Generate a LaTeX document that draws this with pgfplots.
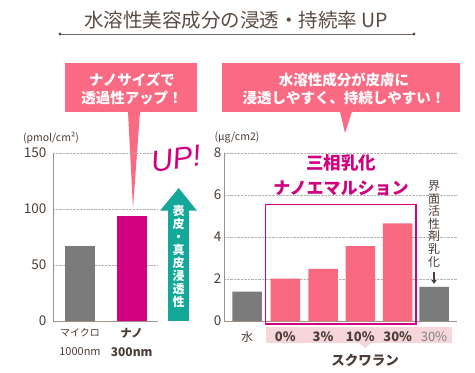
\documentclass[border=0pt]{standalone}
\usepackage{pgfplots}
\pgfplotsset{compat=1.18}
\usetikzlibrary{arrows.meta}
\usepackage{fontspec}
\setmainfont{Noto Sans CJK JP}
\newfontfamily\upfont{Liberation Sans}
\definecolor{titlebrown}{HTML}{5A4A42}
\definecolor{pinkbox}{HTML}{FA6A82}
\definecolor{barpink}{HTML}{F8687F}
\definecolor{mag}{HTML}{D0007F}
\definecolor{tealc}{HTML}{14A898}
\definecolor{bargray}{HTML}{7B7B7B}
\definecolor{band}{HTML}{F6D6DA}
\definecolor{axisc}{HTML}{A29286}
\definecolor{tickc}{HTML}{4B3D35}
\newcommand{\fs}[1]{\fontsize{#1}{#1}\selectfont}
\pgfplotsset{
  myaxis/.style={
    scale only axis, anchor=south west,
    axis x line*=bottom, axis y line*=left,
    axis line style={axisc, line width=0.8pt, -},
    major tick length=0pt,
    ymajorgrids, grid style={densely dotted, gray!60, line width=0.6pt},
    xtick=\empty,
    /pgf/number format/assume math mode=true,
    yticklabel style={font=\fs{13.5}, text=tickc},
    ybar, clip=false,
  }
}
\begin{document}
\begin{tikzpicture}[x=1pt,y=1pt]
\useasboundingbox (0,0) rectangle (475,373);
% title
\node[text=titlebrown, font=\fs{19.5}, inner sep=0] at (236,353) {水溶性美容成分の浸透・持続率 UP};
\draw[titlebrown!85, line width=0.8pt] (60,339) -- (414,339);
\fill[titlebrown] (60,339) circle (1.7) (414,339) circle (1.7);
% callouts
\fill[pinkbox] (65,310) rectangle (197,261);
\fill[pinkbox] (128,261.5) -- (140,261.5) -- (133,165) -- cycle;
\node[text=white, font=\bfseries\fs{14.5}, inner sep=0] at (132,293) {ナノサイズで};
\node[text=white, font=\bfseries\fs{14.5}, inner sep=0] at (132,275) {透過性アップ！};
\fill[pinkbox] (222,310) rectangle (460,261);
\fill[pinkbox] (340,261.5) -- (352,261.5) -- (345,240) -- cycle;
\node[text=white, font=\bfseries\fs{14.5}, inner sep=0] at (344,293) {水溶性成分が皮膚に};
\node[text=white, font=\bfseries\fs{14.5}, inner sep=0] at (344,275) {浸透しやすく、持続しやすい！};
% band behind right tick labels
\fill[band] (265.7,46) rectangle (452,30);
\fill[band] (359,30) -- (371,30) -- (365,25) -- cycle;
% left axis
\begin{axis}[myaxis, at={(53pt,52pt)}, width=104pt, height=168pt,
  xmin=0, xmax=104, ymin=0, ymax=150, ytick={0,50,100,150},
  yticklabel style={xshift=-3pt}, bar width=30pt]
\addplot[fill=bargray, draw=none, bar shift=0pt] coordinates {(27,67)};
\addplot[fill=mag, draw=none, bar shift=0pt] coordinates {(78.7,94)};
\end{axis}
% right axis
\begin{axis}[myaxis, at={(224pt,52pt)}, width=232.7pt, height=168pt,
  xmin=0, xmax=232.7, ymin=0, ymax=8, ytick={0,2,4,6,8},
  yticklabel style={xshift=1pt}, bar width=29.5pt]
\addplot[fill=bargray, draw=none, bar shift=0pt] coordinates {(23,1.40) (210,1.62)};
\addplot[fill=barpink, draw=none, bar shift=0pt] coordinates {(61.3,2.02) (99,2.48) (136.3,3.57) (173.7,4.65)};
\end{axis}
% magenta box
\draw[mag, line width=1.5pt] (265.7,168.7) rectangle (416,49);
\node[text=mag, font=\bfseries\fs{17.5}, inner sep=0] at (341,210) {三相乳化};
\node[text=mag, font=\bfseries\fs{17}, inner sep=0] at (341,185) {ナノエマルション};
% unit labels
\node[text=tickc, font=\fs{10.5}, inner sep=0] at (51,235) {(pmol/cm²)};
\node[text=tickc, font=\fs{10.5}, inner sep=0] at (237,235) {(μg/cm2)};
% left x labels
\node[text=tickc, font=\fs{10}, inner sep=0] at (80,40) {マイクロ};
\node[text=tickc, font=\fs{11}, inner sep=0] at (80,21) {1000nm};
\node[text=tickc, font=\bfseries\fs{11.5}, inner sep=0] at (131.7,40) {ナノ};
\node[text=tickc, font=\bfseries\fs{12}, inner sep=0] at (131.7,21) {300nm};
% right x labels
\node[text=tickc, font=\fs{12}, inner sep=0] at (247,36) {水};
\node[text=tickc, font=\bfseries\fs{13}, inner sep=0] at (285.3,36) {0\%};
\node[text=tickc, font=\bfseries\fs{13}, inner sep=0] at (323,36) {3\%};
\node[text=tickc, font=\bfseries\fs{13}, inner sep=0] at (360.3,36) {10\%};
\node[text=tickc, font=\bfseries\fs{13}, inner sep=0] at (397.7,36) {30\%};
\node[text=gray, font=\fs{13}, inner sep=0] at (434,36) {30\%};
\node[text=tickc, font=\bfseries\fs{13.5}, inner sep=0] at (365,13) {スクワラン};
% vertical label surfactant
\node[text=tickc, font=\fontsize{12}{12.6}\selectfont, inner sep=0, align=center] at (434,149) {界\\面\\活\\性\\剤\\乳\\化};
\draw[tickc, line width=2pt, -{Latex[length=4pt,width=6pt]}] (434,101) -- (434,89);
% teal arrow
\fill[tealc] (168,52) rectangle (189.3,162.5);
\fill[tealc] (160,162.3) -- (197,162.3) -- (178.7,185) -- cycle;
\node[text=white, font=\bfseries\fontsize{12}{13}\selectfont, inner sep=0, align=center] at (178.7,117) {表\\皮\\・\\真\\皮\\浸\\透\\性};
% UP!
\node[text=mag, font=\upfont\itshape\fs{30}, inner sep=0, rotate=8] at (176,214) {UP!};
\end{tikzpicture}
\end{document}
